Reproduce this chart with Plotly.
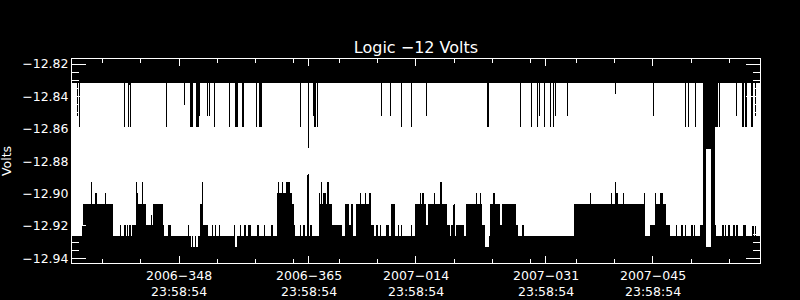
import pandas as pd
import plotly.graph_objects as go

# ---- time window -------------------------------------------------------
START = pd.Timestamp("2006-12-01 00:00:00")
END = pd.Timestamp("2007-03-01 00:00:00")

# ---- upper band: lower edge (days after START, volts) ----------------------
TOP_BASE = -12.8316
TOP_CEIL = -12.800
top_start = [0.65, 0.92, 6.74, 7.39, 7.59, 12.36, 13.67, 14.59, 15.50, 16.16, 16.55, 17.60, 17.92,
             18.64, 20.60, 21.26, 21.78, 22.30, 23.35, 24.07, 24.46, 29.89, 30.81, 31.59, 31.72,
             31.99, 40.36, 41.54, 42.98, 44.29, 46.25, 54.23, 58.54, 59.98, 60.77, 61.03, 61.68,
             61.94, 62.47, 62.86, 63.12, 64.69, 65.08, 70.97, 75.94, 80.13, 80.52, 81.44, 82.48,
             82.94, 83.53, 84.12, 84.64, 86.87, 87.65, 88.05, 88.76, 89.28]
top_end = [0.78, 1.05, 6.87, 7.52, 7.72, 12.49, 13.80, 14.72, 15.89, 16.55, 16.68, 17.73, 18.05,
           18.77, 20.73, 21.65, 21.91, 22.44, 23.48, 24.20, 24.79, 30.02, 30.94, 31.72, 31.86,
           32.12, 40.49, 41.67, 43.11, 44.42, 46.38, 54.49, 58.67, 60.11, 60.90, 61.22, 61.81,
           62.07, 62.60, 62.99, 63.25, 64.82, 65.21, 71.10, 76.07, 80.26, 80.65, 81.57, 82.94,
           83.53, 84.12, 84.45, 84.77, 87.00, 87.85, 88.31, 89.02, 89.48]
top_value = [-12.8519, -12.8587, -12.8587, -12.8587, -12.8587, -12.8587, -12.8519, -12.8453,
             -12.8587, -12.8587, -12.8519, -12.8519, -12.8519, -12.8587, -12.8587, -12.8587,
             -12.8587, -12.8587, -12.8587, -12.8587, -12.8587, -12.8587, -12.8720, -12.8519,
             -12.8587, -12.8587, -12.8519, -12.8519, -12.8587, -12.8587, -12.8519, -12.8587,
             -12.8587, -12.8587, -12.8587, -12.8519, -12.8587, -12.8587, -12.8587, -12.8587,
             -12.8519, -12.8519, -12.8587, -12.8384, -12.8519, -12.8587, -12.8587, -12.8587,
             -12.9350, -12.8725, -12.9350, -12.8587, -12.8587, -12.8519, -12.8587, -12.8587,
             -12.8587, -12.8519]

# ---- lower band: upper edge (days after START, volts) ----------------------
BOT_BASE = -12.9262
BOT_FLOOR = -12.960
bot_start = [1.37, 1.50, 2.42, 3.07, 4.38, 6.25, 6.83, 7.17, 7.43, 7.91, 8.31, 8.31, 8.44, 9.22,
             9.62, 10.27, 10.53, 11.84, 12.58, 15.20, 15.63, 15.89, 16.25, 16.72, 16.94, 17.20,
             18.25, 18.68, 19.17, 21.13, 21.39, 21.95, 22.53, 22.96, 24.23, 25.09, 26.01, 26.88,
             26.98, 27.41, 27.97, 28.75, 29.01, 29.83, 30.19, 30.72, 30.81, 31.16, 32.25, 32.25,
             32.51, 32.86, 33.39, 33.99, 35.65, 36.17, 36.53, 37.18, 37.61, 38.27, 38.79, 39.14,
             39.80, 40.23, 41.01, 41.67, 42.67, 42.98, 44.28, 44.81, 45.46, 45.81, 46.25, 46.55,
             47.33, 48.17, 49.08, 49.61, 49.91, 50.26, 51.57, 52.88, 53.31, 53.66, 54.09, 54.62,
             55.05, 55.93, 56.19, 58.02, 58.90, 60.37, 65.61, 67.70, 70.45, 70.97, 71.19, 72.02,
             74.77, 75.64, 76.20, 76.20, 76.86, 77.73, 78.99, 79.70, 80.13, 80.91, 81.34, 82.09,
             82.52, 82.96, 83.62, 84.06, 85.06, 85.36, 85.79, 86.45, 86.89, 87.76, 88.99, 89.28]
bot_end = [1.50, 5.30, 2.64, 3.21, 4.51, 6.38, 7.04, 7.30, 7.69, 8.31, 9.62, 8.44, 8.57, 9.35,
           10.53, 10.40, 11.84, 12.06, 12.89, 15.33, 15.76, 16.07, 16.51, 16.94, 17.20, 17.82,
           18.47, 18.86, 19.39, 21.30, 21.52, 22.17, 22.70, 23.35, 24.44, 25.31, 26.23, 28.75,
           27.11, 27.63, 28.49, 29.01, 29.21, 29.96, 30.42, 30.98, 30.94, 31.42, 33.99, 32.38,
           32.73, 33.26, 33.56, 35.35, 36.17, 36.53, 36.73, 39.14, 37.83, 38.49, 39.05, 39.44,
           39.97, 40.45, 41.44, 42.19, 42.84, 43.14, 44.51, 46.25, 45.68, 46.02, 46.55, 49.08,
           47.46, 48.34, 49.39, 49.82, 50.13, 51.31, 53.66, 53.01, 53.44, 54.09, 54.49, 55.93,
           55.27, 56.19, 58.02, 58.32, 59.07, 60.50, 74.90, 67.83, 70.67, 71.10, 71.36, 72.19,
           74.99, 76.20, 77.73, 76.42, 77.25, 78.17, 79.12, 79.91, 80.26, 81.21, 81.47, 82.52,
           82.96, 83.62, 84.06, 84.28, 85.23, 85.58, 86.01, 86.67, 87.10, 88.20, 89.16, 89.51]
bot_value = [-12.9194, -12.9065, -12.8927, -12.8997, -12.8997, -12.9194, -12.9194, -12.9194,
             -12.9194, -12.9194, -12.9065, -12.8927, -12.8997, -12.8927, -12.9194, -12.9130,
             -12.9065, -12.9194, -12.9194, -12.9194, -12.9328, -12.9328, -12.9328, -12.9065,
             -12.8927, -12.9194, -12.9194, -12.9194, -12.9194, -12.9194, -12.9328, -12.9194,
             -12.9194, -12.9194, -12.9194, -12.9194, -12.9194, -12.8997, -12.8927, -12.8927,
             -12.8927, -12.9065, -12.9194, -12.9194, -12.9194, -12.9065, -12.8880, -12.9194,
             -12.9065, -12.8997, -12.8927, -12.8997, -12.8927, -12.9194, -12.9065, -12.9194,
             -12.9065, -12.9065, -12.8997, -12.8997, -12.8997, -12.9194, -12.9194, -12.9194,
             -12.9194, -12.9065, -12.9194, -12.9194, -12.9194, -12.9065, -12.8997, -12.8997,
             -12.9194, -12.9065, -12.8997, -12.8927, -12.9194, -12.9194, -12.9065, -12.9194,
             -12.9065, -12.8997, -12.8997, -12.9194, -12.9328, -12.9065, -12.8997, -12.9194,
             -12.9065, -12.9194, -12.9194, -12.9194, -12.9065, -12.8997, -12.8997, -12.8927,
             -12.8997, -12.8997, -12.8997, -12.9194, -12.9065, -12.8997, -12.8997, -12.9194,
             -12.9194, -12.9194, -12.9194, -12.9194, -12.9194, -12.9194, -12.8500, -12.9328,
             -12.8500, -12.9194, -12.9194, -12.9194, -12.9194, -12.9194, -12.9194, -12.9194,
             -12.9194, -12.9194]

# ---- axis ticks --------------------------------------------------------------
x_major_times = ["2006-12-14 23:58:54", "2006-12-31 23:58:54", "2007-01-14 23:58:54",
                 "2007-01-31 23:58:54", "2007-02-14 23:58:54"]
x_major_labels = ["2006\u2212348<br>23:58:54", "2006\u2212365<br>23:58:54",
                  "2007\u2212014<br>23:58:54", "2007\u2212031<br>23:58:54",
                  "2007\u2212045<br>23:58:54"]
x_minor_times = ["2006-12-05", "2006-12-10", "2006-12-20", "2006-12-25", "2006-12-30",
                 "2007-01-05", "2007-01-10", "2007-01-20", "2007-01-25", "2007-01-30",
                 "2007-02-05", "2007-02-10", "2007-02-20", "2007-02-25"]
y_ticks = [-12.94, -12.92, -12.90, -12.88, -12.86, -12.84, -12.82]
y_labels = ["\u221212.94", "\u221212.92", "\u221212.90", "\u221212.88", "\u221212.86",
            "\u221212.84", "\u221212.82"]
Y_RANGE = [-12.9429, -12.8169]
TOTAL_DAYS = (END - START) / pd.Timedelta(days=1)


def band_polygon(starts, ends, values, base, far, pick):
    """Closed outline of a band whose inner edge is a step function."""
    cuts = sorted(set(starts) | set(ends) | {0.0, TOTAL_DAYS})
    xs = [0.0]
    ys = [far]
    for a, b in zip(cuts[:-1], cuts[1:]):
        cover = [v for s, e, v in zip(starts, ends, values) if s <= a and e >= b]
        val = pick(cover) if cover else base
        xs += [a, b]
        ys += [val, val]
    xs += [TOTAL_DAYS]
    ys += [far]
    times = START + pd.to_timedelta(xs, unit="D")
    return times, ys


tx, ty = band_polygon(top_start, top_end, top_value, TOP_BASE, TOP_CEIL, min)
bx, by = band_polygon(bot_start, bot_end, bot_value, BOT_BASE, BOT_FLOOR, max)

fig = go.Figure()
for xx, yy in ((tx, ty), (bx, by)):
    fig.add_trace(go.Scatter(x=xx, y=yy, mode="lines", fill="toself", fillcolor="black",
                             line=dict(width=0, color="black"), hoverinfo="skip"))

FONT = "DejaVu Sans"
fig.update_layout(
    width=800, height=300,
    margin=dict(l=72, r=40, t=59, b=37),
    paper_bgcolor="black", plot_bgcolor="white",
    showlegend=False,
    font=dict(family=FONT, color="white", size=12.5),
    title=dict(text="Logic \u221212 Volts", x=0.5, xref="paper", xanchor="center",
               y=1 - 47.5 / 300, yref="container", yanchor="middle",
               font=dict(family=FONT, size=16, color="white")),
)
fig.update_xaxes(
    type="date", range=[START, END],
    tickmode="array", tickvals=x_major_times, showticklabels=False,
    ticks="inside", ticklen=7, tickwidth=1, tickcolor="white",
    showline=True, linecolor="white", linewidth=1, mirror="ticks",
    showgrid=False, zeroline=False,
    minor=dict(tickmode="array", tickvals=x_minor_times, ticks="inside", ticklen=4,
               tickwidth=1, tickcolor="white", showgrid=False),
)
fig.update_yaxes(
    range=Y_RANGE,
    tickmode="array", tickvals=y_ticks, ticktext=y_labels,
    ticks="inside", ticklen=14, tickwidth=1, tickcolor="white",
    showline=True, linecolor="white", linewidth=1, mirror="ticks",
    showgrid=False, zeroline=False,
    tickfont=dict(family=FONT, size=12.5, color="white"),
    minor=dict(tickmode="linear", tick0=-12.94, dtick=0.005, ticks="inside", ticklen=7,
               tickwidth=1, tickcolor="white", showgrid=False),
)
# two-line date labels under the major ticks
for t, lab in zip(x_major_times, x_major_labels):
    fig.add_annotation(text=lab, x=t, xref="x", y=0, yref="paper", xanchor="center",
                       yanchor="top", yshift=-3, showarrow=False,
                       font=dict(family=FONT, size=12.5, color="white"))
fig.add_annotation(text="Volts", xref="paper", yref="paper", x=-66 / 688, y=0.5,
                   xanchor="center", yanchor="middle", textangle=-90, showarrow=False,
                   font=dict(family=FONT, size=12.5, color="white"))

# crisp (non-antialiased) edges for the dense one-pixel data strokes
crisp = ("var s=document.createElement('style');"
         "s.textContent='.js-fill{shape-rendering:crispEdges}';"
         "document.head.appendChild(s);")
fig.write_html("out.html", post_script=crisp)
